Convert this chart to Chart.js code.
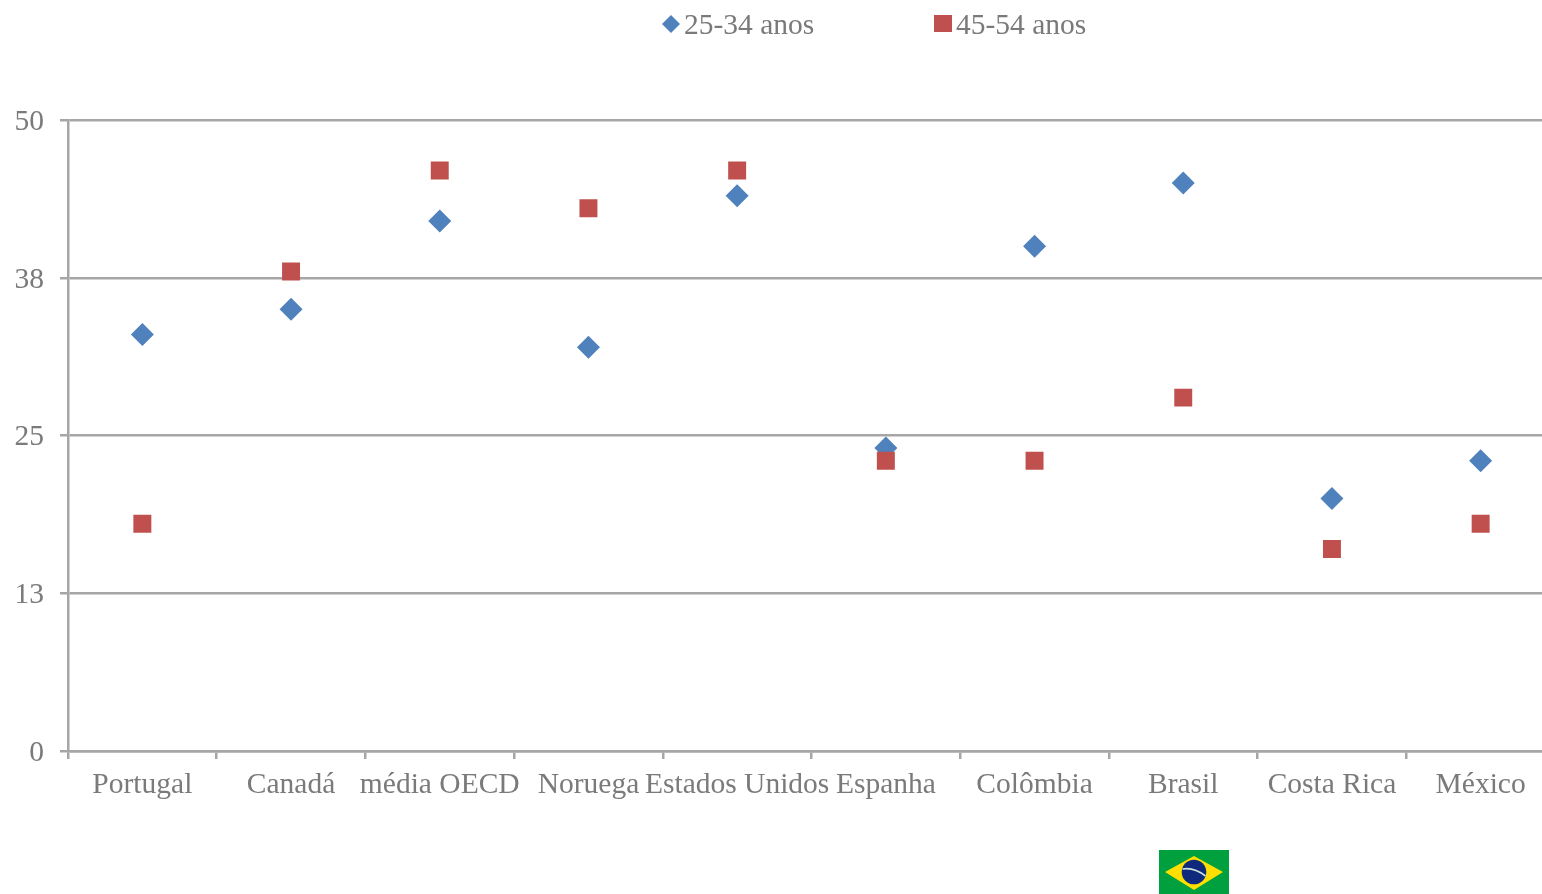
<!DOCTYPE html>
<html lang="pt">
<head>
<meta charset="utf-8">
<title>25-34 anos / 45-54 anos</title>
<script src="https://cdn.jsdelivr.net/npm/chart.js@4/dist/chart.umd.min.js"></script>
<style>
  html, body { margin: 0; padding: 0; background: #fff; overflow: hidden; }
  /* the plot runs a little past the right edge of the picture, so the canvas is cropped */
  #wrap { position: relative; width: 1542px; height: 894px; overflow: hidden; }
  #chart { position: absolute; left: 0; top: 0; }
  #flag { position: absolute; left: 1159px; top: 850px; }
</style>
</head>
<body>
<div id="wrap">
  <canvas id="chart" width="1555" height="894"></canvas>
  <svg id="flag" width="70" height="44" viewBox="0 0 70 44">
    <rect width="70" height="44" fill="#00a03e"/>
    <polygon points="6,22 35,6 64,22 35,40" fill="#fedf00"/>
    <circle cx="35" cy="22" r="12.3" fill="#0f2a7d"/>
    <path d="M23.5 19 Q35 17 46.5 26" fill="none" stroke="#cfe3dc" stroke-width="1.6"/>
  </svg>
</div>
<script>
const categories = ['Portugal', 'Canadá', 'média OECD', 'Noruega', 'Estados Unidos', 'Espanha', 'Colômbia', 'Brasil', 'Costa Rica', 'México']
const young = [33, 35, 42, 32, 44, 24, 40, 45, 20, 23]
const older = [18, 38, 46, 43, 46, 23, 23, 28, 16, 18]
const seriesNames = ['25-34 anos', '45-54 anos']
const yTicks = [0, 12.5, 25, 37.5, 50]

const BLUE = '#4f81bd'
const RED = '#c0504d'
const GRAY = '#a6a6a6'
const TEXT = '#7a7a7a'
const FONT = '"Liberation Serif", serif'
const FONT_SIZE = 29.5

// the legend sits off-center in the reference, so it is drawn by hand
const legendMarks = {
  id: 'legendMarks',
  afterDraw(chart) {
    const ctx = chart.ctx
    ctx.save()
    ctx.font = `${FONT_SIZE}px ${FONT}`
    ctx.textBaseline = 'middle'
    ctx.fillStyle = TEXT
    ctx.fillText(seriesNames[0], 684, 26)
    ctx.fillText(seriesNames[1], 956, 26)

    ctx.fillStyle = BLUE
    ctx.beginPath()
    ctx.moveTo(671, 15)
    ctx.lineTo(680, 24)
    ctx.lineTo(671, 33)
    ctx.lineTo(662, 24)
    ctx.closePath()
    ctx.fill()

    ctx.fillStyle = RED
    ctx.fillRect(934, 15, 18, 17)
    ctx.restore()
  }
}

new Chart(document.getElementById('chart'), {
  type: 'line',
  data: {
    labels: categories,
    datasets: [
      {
        label: seriesNames[0],
        data: young,
        showLine: false,
        pointStyle: 'rectRot',
        pointRadius: 11.5,
        pointHoverRadius: 11.5,
        backgroundColor: BLUE,
        borderColor: BLUE,
        pointBorderWidth: 0,
        order: 2
      },
      {
        label: seriesNames[1],
        data: older,
        showLine: false,
        pointStyle: 'rect',
        pointRadius: 12.7,
        pointHoverRadius: 12.7,
        backgroundColor: RED,
        borderColor: RED,
        pointBorderWidth: 0,
        order: 1
      }
    ]
  },
  options: {
    responsive: false,
    animation: false,
    layout: { autoPadding: false, padding: { top: 120, left: 0, right: 0, bottom: 0 } },
    plugins: {
      legend: { display: false },
      tooltip: { enabled: false }
    },
    scales: {
      x: {
        offset: true,
        afterFit: scale => { scale.height = 143 },
        border: { display: true, color: GRAY, width: 2.5 },
        grid: {
          offset: true,
          drawOnChartArea: false,
          color: GRAY,
          lineWidth: 2.5,
          tickLength: 8
        },
        ticks: {
          color: TEXT,
          font: { family: FONT, size: FONT_SIZE },
          maxRotation: 0,
          autoSkip: false,
          padding: 9
        }
      },
      y: {
        min: 0,
        max: 50,
        afterFit: scale => { scale.width = 68 },
        afterBuildTicks: scale => { scale.ticks = yTicks.map(value => ({ value })) },
        border: { display: true, color: GRAY, width: 2.5 },
        grid: { color: GRAY, lineWidth: 2.5, tickLength: 8 },
        ticks: {
          color: TEXT,
          font: { family: FONT, size: FONT_SIZE },
          padding: 16,
          labelOffset: 2,
          callback: value => Math.round(value)
        }
      }
    }
  },
  plugins: [legendMarks]
})
</script>
</body>
</html>
